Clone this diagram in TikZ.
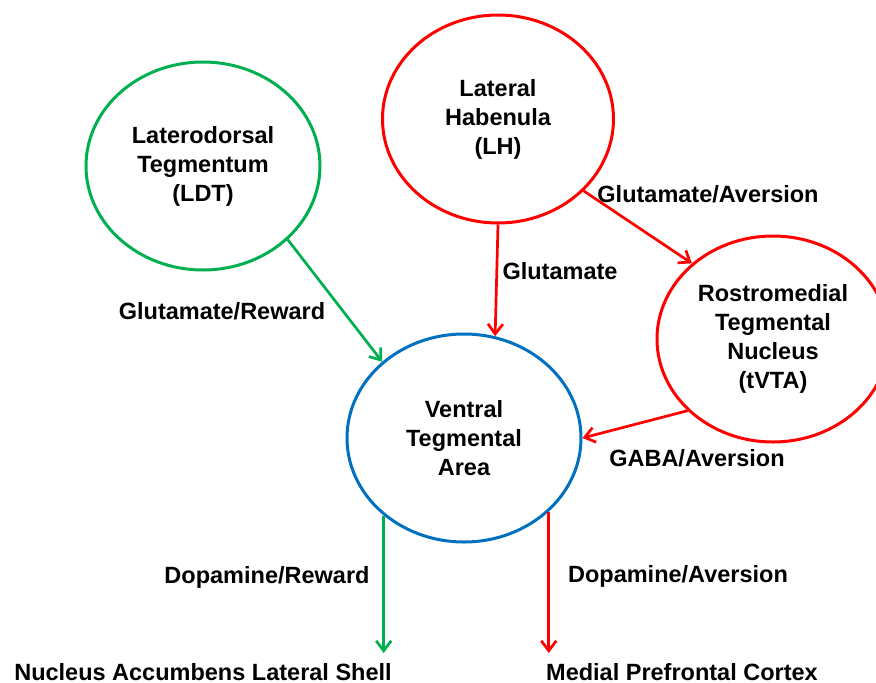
\documentclass[tikz,border=0pt]{standalone}
\usepackage{fontspec}
\setmainfont{Liberation Sans}
\usetikzlibrary{shapes.geometric,arrows.meta}
\definecolor{pgreen}{RGB}{0,176,80}
\definecolor{pred}{RGB}{255,0,0}
\definecolor{pblue}{RGB}{0,112,192}
\tikzset{
  region/.style={ellipse, draw, line width=3pt, inner sep=0pt, align=center,
    font=\fontsize{23.5}{29}\selectfont\bfseries},
  lbl/.style={inner sep=0pt, text height=17pt, text depth=0pt,
    font=\fontsize{23.5}{29}\selectfont\bfseries},
  conn/.style={line width=2.7pt, -{Straight Barb[length=10pt,width=15pt]}}
}
\begin{document}
\begin{tikzpicture}[x=1pt,y=-1pt]
\useasboundingbox (0,0) rectangle (876,683);
\begin{scope}
\clip (0,0) rectangle (876,683);
\node[region, pgreen, text=black, minimum width=234pt, minimum height=208pt] (ldt) at (203,166) {Laterodorsal\\Tegmentum\\(LDT)};
\node[region, pred, text=black, minimum width=231pt, minimum height=208pt] (lh) at (498,119) {Lateral\\Habenula\\(LH)};
\node[region, pred, text=black, minimum width=232pt, minimum height=206pt] (rmtg) at (773,339) {Rostromedial\\Tegmental\\Nucleus\\(tVTA)};
\node[region, pblue, text=black, minimum width=234pt, minimum height=208pt] (vta) at (464,438) {Ventral\\Tegmental\\Area};
\end{scope}

\node[lbl] (l1) at (222,311) {Glutamate/Reward};
\node[lbl] (l2) at (560,271) {Glutamate};
\node[lbl] (l3) at (708,194) {Glutamate/Aversion};
\node[lbl] (l4) at (697,458) {GABA/Aversion};
\node[lbl] (l5) at (267,575) {Dopamine/Reward};
\node[lbl] (l6) at (678,574) {Dopamine/Aversion};
\node[lbl, outer sep=10pt] (nacc) at (203,671.5) {Nucleus Accumbens Lateral Shell};
\node[lbl, outer sep=10pt] (mpfc) at (682,671.5) {Medial Prefrontal Cortex};

\draw[conn, pgreen] (ldt.-41) -- (vta.137);
\draw[conn, pred] (lh.south) -- (vta.73.5);
\draw[conn, pred] (lh.-40.7) -- (rmtg.137);
\draw[conn, pred] (rmtg.220.6) -- (vta.0);
\draw[conn, pgreen] (vta.-136) -- (vta.-136 |- nacc.north);
\draw[conn, pred] (vta.-41.4) -- (vta.-41.4 |- mpfc.north);
\end{tikzpicture}
\end{document}
